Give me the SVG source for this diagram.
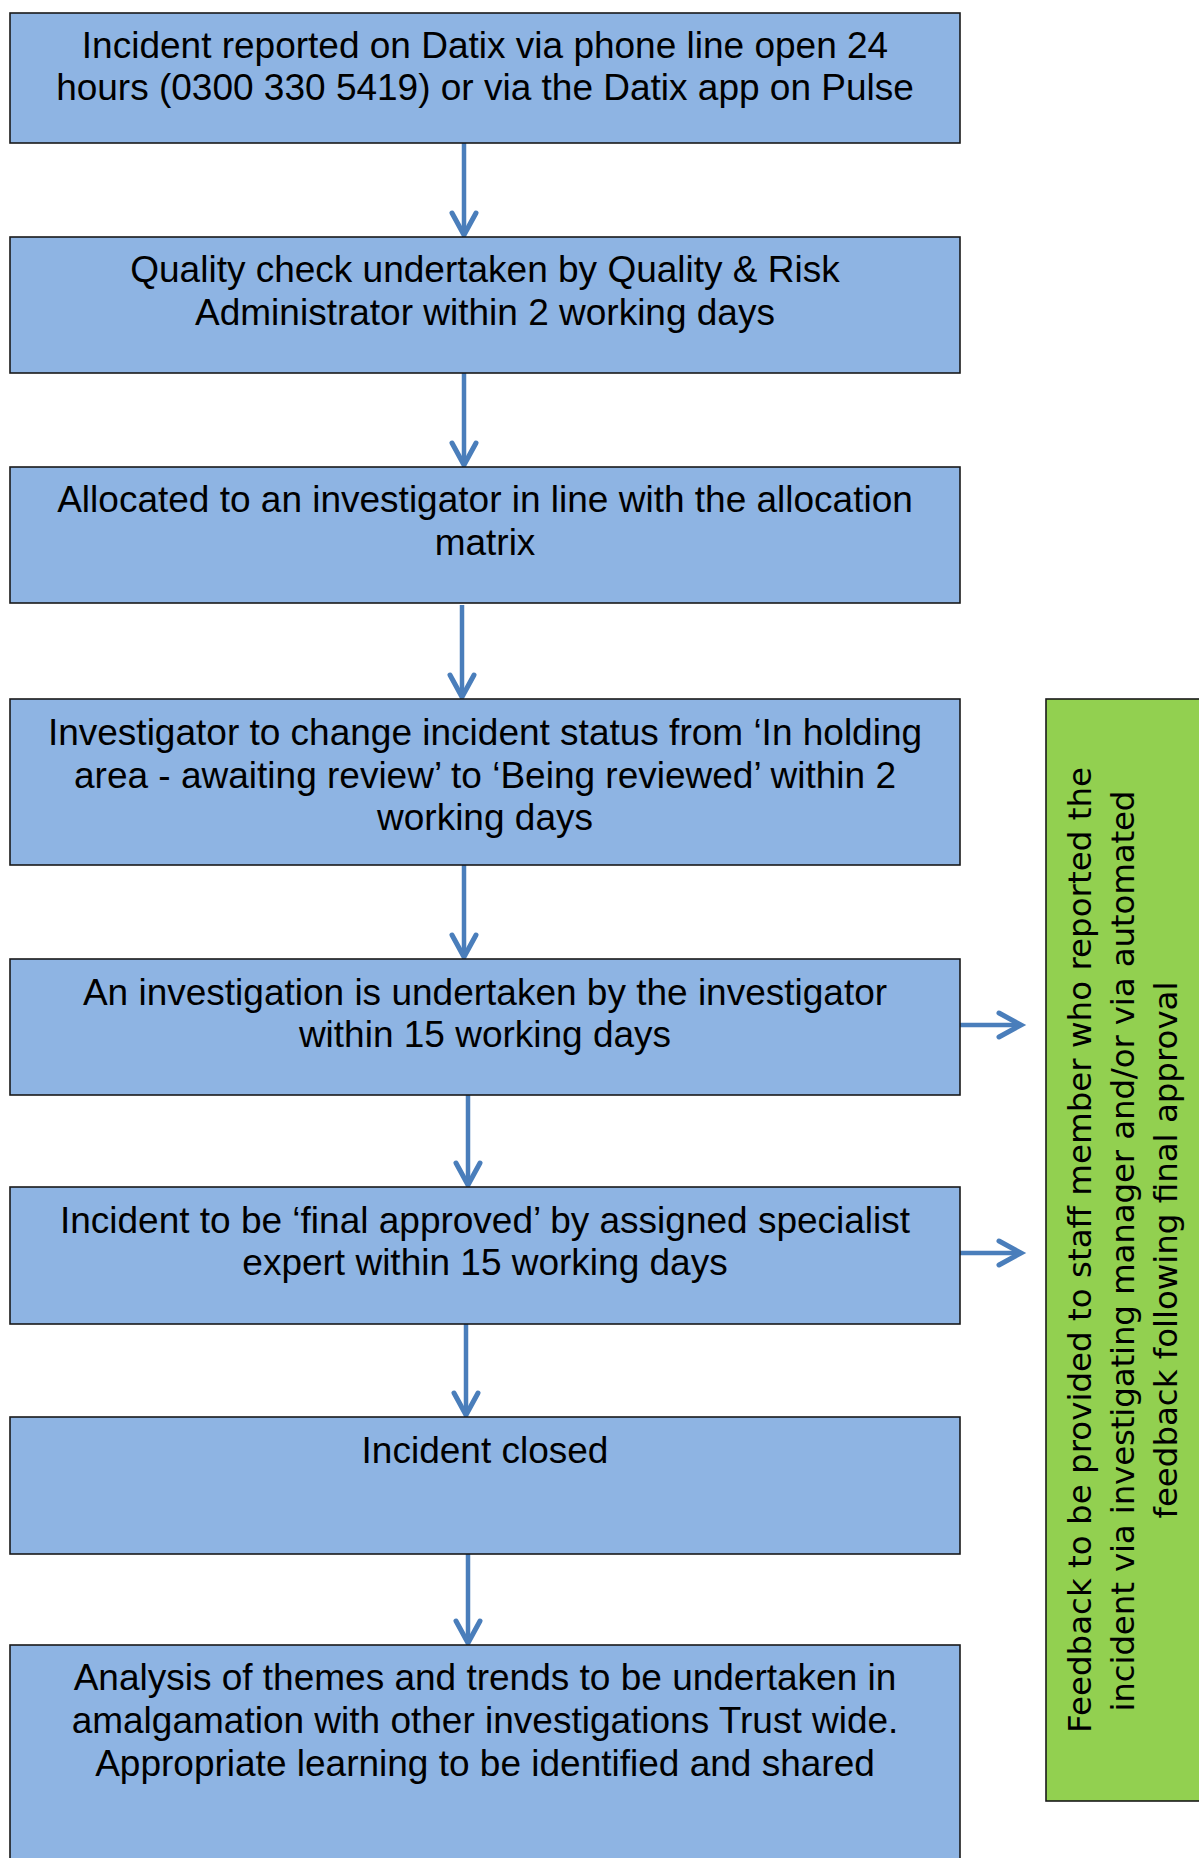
<svg xmlns="http://www.w3.org/2000/svg" width="1199" height="1858" viewBox="0 0 1199 1858">
<style>
.box{fill:#8EB4E3;stroke:#1a1a1a;stroke-width:1.6}
.side{fill:#92D050;stroke:#1a1a1a;stroke-width:1.6}
.t{font-family:"Liberation Sans",Arial,sans-serif;font-size:37px;fill:#000;text-anchor:middle}
.s{font-family:"DejaVu Sans",Verdana,sans-serif;font-size:32.5px;fill:#000;text-anchor:middle}
.c{stroke:#4A7EBB;stroke-width:4.5;fill:none;marker-end:url(#ah)}
</style>
<defs>
<marker id="ah" markerUnits="userSpaceOnUse" markerWidth="40" markerHeight="40" viewBox="-30 -20 40 40" refX="0" refY="0" orient="auto" overflow="visible">
<path d="M-22,-12 L0,0 L-22,12" fill="none" stroke="#4A7EBB" stroke-width="5" stroke-linecap="round" stroke-linejoin="miter"/>
</marker>
</defs>
<g id="connectors">
<line class="c" x1="464" y1="143" x2="464" y2="235"/>
<line class="c" x1="464" y1="373" x2="464" y2="465"/>
<line class="c" x1="462" y1="605" x2="462" y2="697"/>
<line class="c" x1="464" y1="865" x2="464" y2="957"/>
<line class="c" x1="468" y1="1095" x2="468" y2="1185"/>
<line class="c" x1="466" y1="1324" x2="466" y2="1415"/>
<line class="c" x1="468" y1="1554" x2="468" y2="1643"/>
<line class="c" x1="960" y1="1025" x2="1021" y2="1025"/>
<line class="c" x1="960" y1="1253" x2="1021" y2="1253"/>
</g>
<g id="n1">
<rect class="box" x="10" y="13" width="950" height="130"/>
<text class="t" x="485" y="58">Incident reported on Datix via phone line open 24</text>
<text class="t" x="485" y="100">hours (0300 330 5419) or via the Datix app on Pulse</text>
</g>
<g id="n2">
<rect class="box" x="10" y="237" width="950" height="136"/>
<text class="t" x="485" y="282">Quality check undertaken by Quality &amp; Risk</text>
<text class="t" x="485" y="324.5">Administrator within 2 working days</text>
</g>
<g id="n3">
<rect class="box" x="10" y="467" width="950" height="136"/>
<text class="t" x="485" y="512">Allocated to an investigator in line with the allocation</text>
<text class="t" x="485" y="554.5">matrix</text>
</g>
<g id="n4">
<rect class="box" x="10" y="699" width="950" height="166"/>
<text class="t" x="485" y="745">Investigator to change incident status from ‘In holding</text>
<text class="t" x="485" y="787.5">area - awaiting review’ to ‘Being reviewed’ within 2</text>
<text class="t" x="485" y="830">working days</text>
</g>
<g id="n5">
<rect class="box" x="10" y="959" width="950" height="136"/>
<text class="t" x="485" y="1005">An investigation is undertaken by the investigator</text>
<text class="t" x="485" y="1047">within 15 working days</text>
</g>
<g id="n6">
<rect class="box" x="10" y="1187" width="950" height="137"/>
<text class="t" x="485" y="1233">Incident to be ‘final approved’ by assigned specialist</text>
<text class="t" x="485" y="1275">expert within 15 working days</text>
</g>
<g id="n7">
<rect class="box" x="10" y="1417" width="950" height="137"/>
<text class="t" x="485" y="1463">Incident closed</text>
</g>
<g id="n8">
<rect class="box" x="10" y="1645" width="950" height="240"/>
<text class="t" x="485" y="1690">Analysis of themes and trends to be undertaken in</text>
<text class="t" x="485" y="1733">amalgamation with other investigations Trust wide.</text>
<text class="t" x="485" y="1776">Appropriate learning to be identified and shared</text>
</g>
<g id="feedback">
<rect class="side" x="1046" y="699" width="180" height="1102"/>
<text class="s" transform="translate(1091,1250) rotate(-90)" textLength="966" lengthAdjust="spacing">Feedback to be provided to staff member who reported the</text>
<text class="s" transform="translate(1134,1251) rotate(-90)" textLength="921" lengthAdjust="spacing">incident via investigating manager and/or via automated</text>
<text class="s" transform="translate(1177,1250) rotate(-90)" textLength="537" lengthAdjust="spacing">feedback following final approval</text>
</g>
</svg>
